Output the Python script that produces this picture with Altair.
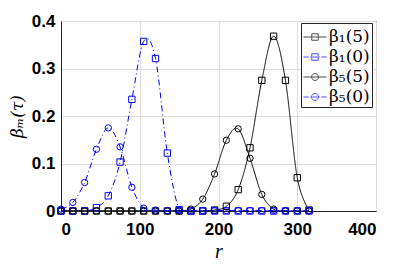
import altair as alt
import pandas as pd

r = [0, 15, 30, 45, 60, 75, 90, 105, 120, 135, 150, 165, 180, 195, 210, 225, 240, 255, 270, 285, 300, 315]
b1_5 = [0, 0, 0, 0, 0, 0, 0, 0, 0, 0, 0, 0, 0, 0.002, 0.01, 0.045, 0.133, 0.275, 0.368, 0.275, 0.07, 0.002]
b1_0 = [0, 0, 0, 0.007, 0.032, 0.103, 0.235, 0.357, 0.321, 0.122, 0.003, 0, 0, 0, 0, 0, 0, 0, 0, 0, 0, 0]
b5_5 = [0, 0, 0, 0, 0, 0, 0, 0, 0, 0, 0, 0.004, 0.025, 0.078, 0.149, 0.173, 0.111, 0.035, 0.004, 0, 0, 0]
b5_0 = [0.004, 0.018, 0.06, 0.13, 0.175, 0.135, 0.05, 0.006, 0.002, 0.001, 0.001, 0.001, 0.001, 0.001, 0.001, 0.001, 0.001, 0.001, 0.001, 0.001, 0.001, 0.001]

names = ["β₁(5)", "β₁(0)", "β₅(5)", "β₅(0)"]
colors = ["#000000", "#0000ff", "#000000", "#0000ff"]
shapes = ["square", "square", "circle", "circle"]
dashes = [[1, 0], [6, 3, 1, 3], [1, 0], [6, 3, 1, 3]]

sq = "M-0.28,-0.28H0.28V0.28H-0.28Z"
ci = "M0.3,0A0.3,0.3 0 1,1 -0.3,0A0.3,0.3 0 1,1 0.3,0Z"
solid = "M-1,0H1"
dashed = "M-1,0H-0.55M-0.42,0H-0.36M-0.22,0H0.22M0.36,0H0.42M0.55,0H1"
legend_paths = [solid + sq, dashed + sq, solid + ci, dashed + ci]

rows = []
for nm, vals in zip(names, [b1_5, b1_0, b5_5, b5_0]):
    for rr, vv in zip(r, vals):
        rows.append({"r": rr, "v": vv, "series": nm})
df = pd.DataFrame(rows)

xenc = alt.X("r:Q", scale=alt.Scale(domain=[0, 400], nice=False),
             axis=alt.Axis(values=[0, 100, 200, 300, 400], title="r", titleFont="Liberation Serif",
                           titleFontStyle="italic", titleFontWeight="normal", titleFontSize=20,
                           titlePadding=4, labelPadding=10))
yenc = alt.Y("v:Q", scale=alt.Scale(domain=[0, 0.4], nice=False),
             axis=alt.Axis(values=[0, 0.1, 0.2, 0.3, 0.4], format="~g", title="βₘ(τ)",
                           titleFont="DejaVu Serif", titleFontStyle="italic", titleFontWeight="normal",
                           titleFontSize=17, titleX=-44, titleY=95, titleAngle=270,
                           titleAlign="center", titleBaseline="middle", labelPadding=6))

cscale = alt.Scale(domain=names, range=colors)

lines = alt.Chart(df).mark_line(interpolate="cardinal", strokeWidth=1, clip=True).encode(
    x=xenc, y=yenc,
    color=alt.Color("series:N", scale=cscale, legend=None),
    strokeDash=alt.StrokeDash("series:N", scale=alt.Scale(domain=names, range=dashes), legend=None),
    detail="series:N",
)

points = alt.Chart(df).mark_point(filled=False, size=40, strokeWidth=1, opacity=1).encode(
    x="r:Q", y="v:Q",
    color=alt.Color("series:N", scale=cscale, legend=None),
    shape=alt.Shape("series:N", scale=alt.Scale(domain=names, range=shapes), legend=None),
)

leg = alt.Legend(title=None, orient="none", legendX=240, legendY=2, symbolSize=529,
                 symbolStrokeWidth=1, labelFont="DejaVu Serif", labelFontSize=17,
                 strokeColor="#262626", fillColor="white", padding=2, rowPadding=0,
                 labelOffset=2, labelLimit=200)

legend_layer = alt.Chart(df).transform_filter("false").mark_point(filled=False, strokeWidth=1).encode(
    x="r:Q", y="v:Q",
    color=alt.Color("series:N", scale=alt.Scale(domain=names, range=colors), legend=leg),
    shape=alt.Shape("series:N", scale=alt.Scale(domain=names, range=legend_paths), legend=leg),
)

chart = alt.layer(lines, points, legend_layer).resolve_scale(
    color="independent", shape="independent", strokeDash="independent"
).properties(
    width=315, height=190, autosize="none",
    padding={"left": 53, "top": 13, "right": 31, "bottom": 49},
).configure_view(stroke="#262626", strokeWidth=1).configure_axis(
    labelFont="Liberation Sans", labelFontSize=17, labelFontWeight="bold", labelColor="#000000",
    gridColor="#dcdcdc", gridWidth=1, ticks=False, domainColor="#262626", titleColor="#000000",
)

chart.save("out.html", embed_options={"renderer": "svg", "actions": False})
